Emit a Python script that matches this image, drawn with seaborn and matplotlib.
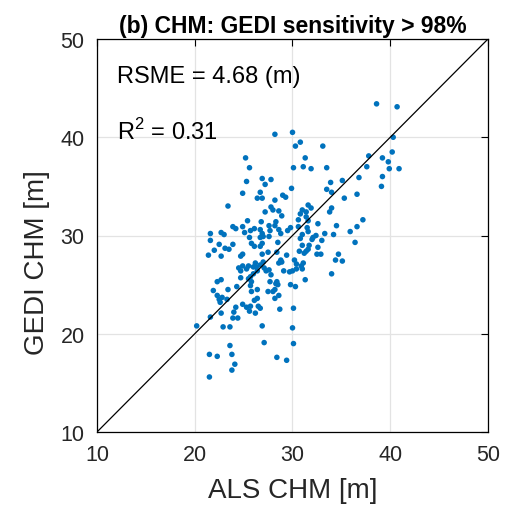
import numpy as np
import pandas as pd
import matplotlib
matplotlib.use("Agg")
import matplotlib.pyplot as plt
import seaborn as sns

als_chm = [
    38.6, 40.7, 28.2, 30.0, 30.8, 30.3, 33.1, 40.3, 31.3, 31.1, 31.9, 33.5, 37.8, 39.2, 39.8, 40.2, 39.9, 40.9, 37.6, 39.2,
    39.1, 36.8, 35.1, 33.9, 33.5, 34.0, 35.3, 36.6, 25.2, 25.6, 30.1, 25.3, 26.9, 27.8, 27.2, 24.9, 26.7, 26.4, 26.9, 29.0,
    29.3, 29.9, 28.2, 23.4, 27.8, 28.0, 28.6, 27.2, 28.9, 31.6, 31.9, 31.0, 30.8, 34.0, 33.8, 31.4, 30.6, 32.6, 34.5, 35.9,
    36.6, 37.2, 29.8, 30.6, 31.5, 28.3, 28.6, 25.4, 26.8, 24.9, 23.9, 24.2, 27.6, 28.2, 26.1, 25.7, 27.7, 22.7, 21.6, 34.2,
    36.4, 33.3, 32.4, 32.1, 32.0, 33.0, 31.0, 30.8, 31.0, 31.7, 32.6, 31.4, 31.2, 32.5, 32.9, 34.7, 34.4, 35.1, 31.1, 30.9,
    31.0, 34.0, 31.3, 28.5, 30.7, 29.4, 28.8, 28.6, 30.2, 30.4, 30.4, 29.7, 29.1, 28.4, 28.5, 29.8, 30.3, 28.2, 28.6, 28.2,
    28.7, 30.1, 30.0, 31.4, 31.6, 25.1, 26.7, 23.0, 21.6, 22.5, 25.6, 25.8, 26.7, 26.9, 27.6, 28.8, 29.5, 31.6, 22.0, 21.4,
    22.7, 23.1, 23.5, 23.9, 24.7, 24.9, 26.1, 26.7, 26.9, 27.5, 28.4, 28.9, 31.6, 24.5, 24.9, 25.3, 25.5, 24.7, 26.3, 26.7,
    27.0, 27.1, 26.4, 26.0, 24.7, 25.5, 25.8, 27.6, 27.8, 30.0, 21.9, 22.7, 22.3, 23.4, 24.3, 25.8, 26.4, 27.5, 22.3, 22.5,
    23.3, 22.6, 24.9, 25.3, 25.7, 26.5, 26.7, 26.4, 26.1, 24.0, 22.7, 21.6, 23.9, 24.4, 25.6, 20.2, 22.9, 23.6, 26.9, 23.6,
    21.5, 22.3, 23.8, 24.1, 23.8, 21.5, 27.1, 28.4, 29.4, 30.1, 26.9, 27.0, 26.0, 26.2, 27.3, 25.7, 25.7, 22.8, 24.2, 26.2,
    28.0, 27.7, 28.3,
]
gedi_chm = [
    43.4, 43.1, 40.3, 40.5, 39.5, 39.1, 39.1, 40.0, 37.9, 37.0, 36.8, 36.9, 38.1, 37.9, 37.5, 38.5, 36.8, 36.8, 37.0, 36.0,
    35.0, 35.9, 35.6, 35.4, 34.7, 34.4, 33.8, 34.2, 37.9, 36.9, 36.9, 35.5, 35.8, 35.7, 35.2, 34.3, 34.4, 33.8, 33.8, 34.1,
    33.9, 34.8, 33.6, 33.0, 32.9, 32.6, 32.5, 32.4, 32.0, 33.1, 32.8, 32.6, 32.2, 32.8, 32.4, 31.9, 31.6, 31.2, 31.0, 30.4,
    30.9, 31.6, 30.8, 30.9, 30.8, 31.4, 30.6, 31.5, 31.4, 30.9, 30.9, 30.7, 31.0, 31.0, 30.7, 30.5, 30.5, 30.3, 30.2, 30.1,
    29.3, 30.2, 30.0, 29.8, 29.6, 29.5, 30.1, 29.7, 29.0, 29.0, 28.8, 28.4, 28.2, 28.1, 28.1, 28.1, 27.5, 27.4, 27.2, 26.9,
    26.6, 26.1, 25.5, 29.3, 28.4, 28.0, 27.5, 27.2, 27.5, 27.1, 26.6, 26.3, 26.4, 25.3, 25.0, 25.0, 24.8, 24.5, 23.9, 23.6,
    22.5, 22.6, 20.6, 32.4, 31.5, 30.3, 30.6, 30.1, 29.5, 29.1, 29.8, 29.2, 29.8, 29.2, 29.9, 30.2, 30.5, 30.4, 28.5, 28.0,
    27.9, 28.7, 28.6, 29.1, 27.9, 28.1, 28.9, 28.9, 28.1, 28.3, 28.3, 27.3, 28.6, 26.7, 26.9, 26.6, 26.9, 26.4, 26.8, 27.0,
    27.3, 26.7, 26.4, 26.1, 25.7, 25.6, 25.3, 26.5, 26.0, 26.4, 24.4, 25.5, 25.3, 24.5, 24.8, 24.3, 24.5, 24.3, 23.9, 23.5,
    23.5, 23.2, 23.0, 22.7, 22.8, 22.8, 22.6, 23.6, 23.4, 22.2, 22.1, 21.7, 21.6, 21.6, 22.3, 20.8, 20.7, 20.7, 20.8, 18.8,
    17.9, 17.7, 17.9, 16.9, 16.3, 15.6, 19.1, 17.6, 17.3, 19.0, 30.2, 29.9, 26.8, 27.2, 26.4, 25.8, 24.9, 23.7, 22.7, 22.1,
    24.3, 25.3, 25.1,
]
ticks = [10, 20, 30, 40, 50]
title = "(b) CHM: GEDI sensitivity > 98%"
rmse_text = "RSME = 4.68 (m)"
r2_text = "R$^2$ = 0.31"

df = pd.DataFrame({"ALS": als_chm, "GEDI": gedi_chm})

sns.set_theme(style="white")
plt.rcParams['font.family'] = ['Liberation Sans', 'DejaVu Sans']
plt.rcParams['mathtext.fontset'] = 'custom'
plt.rcParams['mathtext.rm'] = 'Liberation Sans'

fig = plt.figure(figsize=(5.26, 5.06), dpi=100)
ax = fig.add_axes([97/526, 1 - 433/506, (488 - 97)/526, (433 - 40)/506])

sns.scatterplot(data=df, x="ALS", y="GEDI", ax=ax, color="#0072BD", s=16,
                edgecolor="none", linewidth=0, zorder=3)
ax.plot([10, 50], [10, 50], color="black", lw=0.9, zorder=4)

ax.set_xlim(10, 50)
ax.set_ylim(10, 50)
ax.set_xticks(ticks)
ax.set_yticks(ticks)
ax.grid(True, color="#e3e3e3", lw=0.9, zorder=0)
ax.set_axisbelow(True)
for sp in ax.spines.values():
    sp.set_color("black")
    sp.set_linewidth(0.9)
ax.tick_params(direction="in", length=5, width=0.8, colors="black",
               top=True, right=True, labelsize=15.5, labelcolor="#262626", pad=9)
ax.set_xlabel("ALS CHM [m]", fontsize=20, color="#262626", labelpad=8)
ax.set_ylabel("GEDI CHM [m]", fontsize=20, color="#262626")
ax.yaxis.set_label_coords(-0.12, 0.433)
ax.set_title(title, fontsize=16.5, fontweight="bold", color="black", pad=5)

ax.text(12.0, 46.2, rmse_text, fontsize=17, color="black", va="center", ha="left")
ax.text(12.0, 40.6, r2_text, fontsize=17, color="black", va="center", ha="left")

fig.savefig("out.png", dpi=100, facecolor="white")
